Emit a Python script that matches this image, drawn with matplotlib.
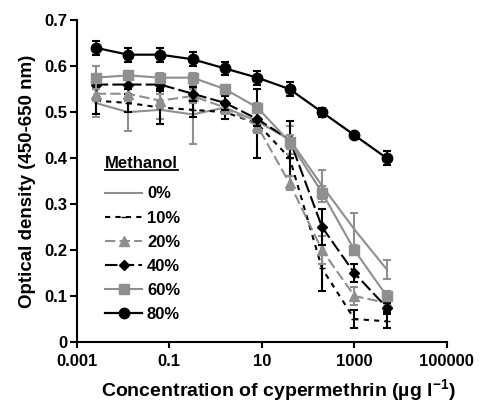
import matplotlib
matplotlib.use("Agg")
import matplotlib.pyplot as plt
from matplotlib.lines import Line2D

plt.rcParams["font.family"] = ["Liberation Sans", "DejaVu Sans"]
plt.rcParams["font.weight"] = "bold"
plt.rcParams["mathtext.fontset"] = "custom"
plt.rcParams["mathtext.rm"] = "Liberation Sans:bold"
plt.rcParams["mathtext.bf"] = "Liberation Sans:bold"

# cypermethrin concentrations (ug/l)
conc = [0.00256, 0.0128, 0.064, 0.32, 1.6, 8, 40, 200, 1000, 5000]

# optical density per methanol level
od_0 = [0.52, 0.50, 0.505, 0.495, 0.51, 0.48, 0.44, 0.34, 0.245, 0.158]
err_0 = [0.03, 0.04, 0.02, 0.065, 0.015, 0.02, 0.03, 0.035, 0.035, 0.02]
od_10 = [0.525, 0.52, 0.51, 0.505, 0.50, 0.475, 0.40, 0.16, 0.05, 0.045]
err_10 = [0.03, 0.02, 0.035, 0.015, 0.015, 0.075, 0.04, 0.05, 0.02, 0.015]
od_20 = [0.54, 0.54, 0.525, 0.535, 0.51, 0.47, 0.345, 0.20, 0.10, 0.085]
err_20 = [0.015, 0.015, 0.015, 0.015, 0.015, 0.015, 0.015, 0.03, 0.02, 0.015]
od_40 = [0.56, 0.56, 0.56, 0.54, 0.52, 0.485, 0.44, 0.25, 0.15, 0.075]
err_40 = [0.01, 0.01, 0.01, 0.015, 0.015, 0.015, 0.04, 0.04, 0.02, 0.01]
od_60 = [0.575, 0.58, 0.575, 0.575, 0.55, 0.51, 0.435, 0.325, 0.20, 0.10]
err_60 = [0.025, 0.01, 0.01, 0.01, 0.01, 0.01, 0.015, 0.015, 0.01, 0.01]
od_80 = [0.64, 0.625, 0.625, 0.615, 0.595, 0.575, 0.55, 0.50, 0.45, 0.40]
err_80 = [0.015, 0.015, 0.015, 0.015, 0.015, 0.015, 0.015, 0.01, 0.005, 0.015]

labels = ["0%", "10%", "20%", "40%", "60%", "80%"]
x_ticks = [0.001, 0.1, 10, 1000, 100000]
x_tick_labels = ["0.001", "0.1", "10", "1000", "100000"]
y_ticks = [0, 0.1, 0.2, 0.3, 0.4, 0.5, 0.6, 0.7]
y_tick_labels = ["0", "0.1", "0.2", "0.3", "0.4", "0.5", "0.6", "0.7"]

gray = "#8f8f8f"
styles = [
    dict(color=gray, ls="-", marker=None, ms=0, lw=1.5),
    dict(color="black", ls=(0, (2.5, 2.5)), marker="_", ms=5, lw=1.5),
    dict(color=gray, ls=(0, (5, 2)), marker="^", ms=6.5, lw=1.5),
    dict(color="black", ls=(0, (6, 2)), marker="D", ms=5, lw=1.5),
    dict(color=gray, ls="-", marker="s", ms=7, lw=1.5),
    dict(color="black", ls="-", marker="o", ms=7.5, lw=1.6),
]
series = [(od_0, err_0), (od_10, err_10), (od_20, err_20),
          (od_40, err_40), (od_60, err_60), (od_80, err_80)]

fig = plt.figure(figsize=(4.8, 4.04), dpi=100)
ax = fig.add_axes([0.160, 0.1535, 0.771, 0.7965])

handles = []
for (vals, errs), st, lab in zip(series, styles, labels):
    ax.errorbar(conc, vals, yerr=errs, fmt="none", ecolor=st["color"],
                elinewidth=1.5, capsize=2.8, capthick=1.5)
    line, = ax.plot(conc, vals, color=st["color"], linestyle=st["ls"],
                    marker=st["marker"], markersize=st["ms"], linewidth=st["lw"],
                    markeredgecolor=st["color"], label=lab)
    handles.append(line)

ax.set_xscale("log")
ax.set_xlim(0.001, 100000)
ax.set_ylim(0, 0.7)
ax.set_xticks(x_ticks)
ax.set_xticklabels(x_tick_labels)
ax.minorticks_off()
ax.set_yticks(y_ticks)
ax.set_yticklabels(y_tick_labels)
ax.spines["top"].set_visible(False)
ax.spines["right"].set_visible(False)
for s in ("left", "bottom"):
    ax.spines[s].set_linewidth(1.5)
ax.tick_params(axis="both", labelsize=12, width=1.5, length=5, direction="out")
ax.tick_params(axis="x", length=4, pad=5)
ax.tick_params(axis="y", pad=2)
for t in ax.get_xticklabels() + ax.get_yticklabels():
    t.set_fontweight("bold")

ax.set_xlabel("Concentration of cypermethrin (\u00b5g l$^{-1}$)", fontsize=14,
              fontweight="bold")
ax.xaxis.set_label_coords(0.545, -0.11)
ax.set_ylabel("Optical density (450-650 nm)", fontsize=13.5, fontweight="bold",
              labelpad=6)

leg = ax.legend(handles=handles, loc="lower left", bbox_to_anchor=(0.05, 0.03),
                frameon=False, fontsize=12, handlelength=2.2, handletextpad=0.3,
                labelspacing=0.55, title="Methanol", title_fontsize=12,
                borderaxespad=0.2)
leg._legend_box.align = "left"
leg._legend_box.sep = 11
leg.get_title().set_fontweight("bold")
for t in leg.get_texts():
    t.set_fontweight("bold")

# underline the legend title
fig.canvas.draw()
bb = leg.get_title().get_window_extent().transformed(fig.transFigure.inverted())
fig.add_artist(Line2D([bb.x0, bb.x1], [bb.y0 + 0.003, bb.y0 + 0.003],
                      transform=fig.transFigure, color="black", lw=1.3))

fig.savefig("out.png", dpi=100)
